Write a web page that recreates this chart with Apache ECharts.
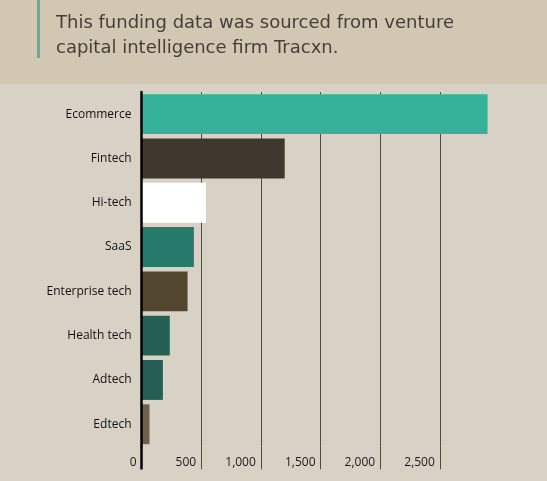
<!DOCTYPE html>
<html>
<head>
<meta charset="utf-8">
<script src="https://cdn.jsdelivr.net/npm/echarts@6/dist/echarts.min.js"></script>
<style>
	html, body { margin: 0; padding: 0; }
	body { background: #d1c7b3; }
	#chart {
		width: 547px;
		height: 481px;
		background: linear-gradient(to bottom, #d1c7b3 0, #d1c7b3 84px, #d8d2c6 84px, #d8d2c6 100%);
	}
</style>
</head>
<body>
<div id="chart"></div>
<script>
	var sectors = ['Ecommerce', 'Fintech', 'Hi-tech', 'SaaS', 'Enterprise tech', 'Health tech', 'Adtech', 'Edtech'];
	var funding = [2900, 1200, 539, 439, 386, 237, 179, 67];
	var barColors = ['#37b29a', '#3e372d', '#ffffff', '#257a6b', '#52462f', '#235f53', '#245e54', '#6e6049'];
	var valueTicks = [0, 500, 1000, 1500, 2000, 2500];

	/*---chart---*/
	var myChart = echarts.init(document.getElementById('chart'));
	var option = {
		animation: false,
		textStyle: {
			fontFamily: 'Open Sans'
		},
		title: {
			text: 'This funding data was sourced from venture\ncapital intelligence firm Tracxn.',
			left: 51,
			top: 6,
			textStyle: {
				fontFamily: 'DejaVu Sans',
				fontSize: 18,
				fontWeight: 'normal',
				lineHeight: 25,
				color: '#463f34'
			}
		},
		graphic: [{
			type: 'rect',
			shape: { x: 37, y: 0, width: 3, height: 58 },
			style: { fill: '#55b39e' }
		}],
		grid: {
			left: 141.5,
			right: 47.5,
			top: 92,
			bottom: 34.6
		},
		xAxis: [{
			type: 'value',
			position: 'bottom',
			min: 0,
			max: 3000,
			interval: 500,
			axisLine: { show: false },
			axisTick: {
				show: true,
				length: 23,
				lineStyle: { color: '#4d4a44', width: 1 }
			},
			splitLine: {
				show: true,
				showMaxLine: false,
				lineStyle: { color: '#4d4a44', width: 1 }
			},
			axisLabel: {
				showMaxLabel: false,
				align: 'right',
				margin: 10,
				padding: [0, 5, 0, 0],
				fontSize: 12,
				color: '#1a1a1a',
				formatter: function(v) {
					return valueTicks.indexOf(v) >= 0 ? v.toLocaleString('en-US') : '';
				}
			}
		}, {
			type: 'value',
			position: 'bottom',
			min: 0,
			max: 3000,
			interval: 500,
			z: 5,
			axisLine: { show: false },
			splitLine: { show: false },
			axisLabel: { show: false },
			axisTick: {
				show: true,
				length: 23,
				customValues: [0],
				lineStyle: { color: '#000', width: 2.5 }
			}
		}],
		yAxis: {
			type: 'category',
			inverse: true,
			data: sectors,
			axisLine: {
				show: true,
				lineStyle: { color: '#000', width: 2.5 }
			},
			axisTick: { show: false },
			axisLabel: {
				margin: 10,
				fontSize: 12,
				color: '#111'
			},
			z: 5
		},
		series: [{
			name: 'Funding',
			type: 'bar',
			barCategoryGap: '10%',
			data: funding.map(function(v, i) {
				return { value: v, itemStyle: { color: barColors[i] } };
			})
		}]
	};
	myChart.setOption(option);
	/*---chart closed---*/
</script>
</body>
</html>
